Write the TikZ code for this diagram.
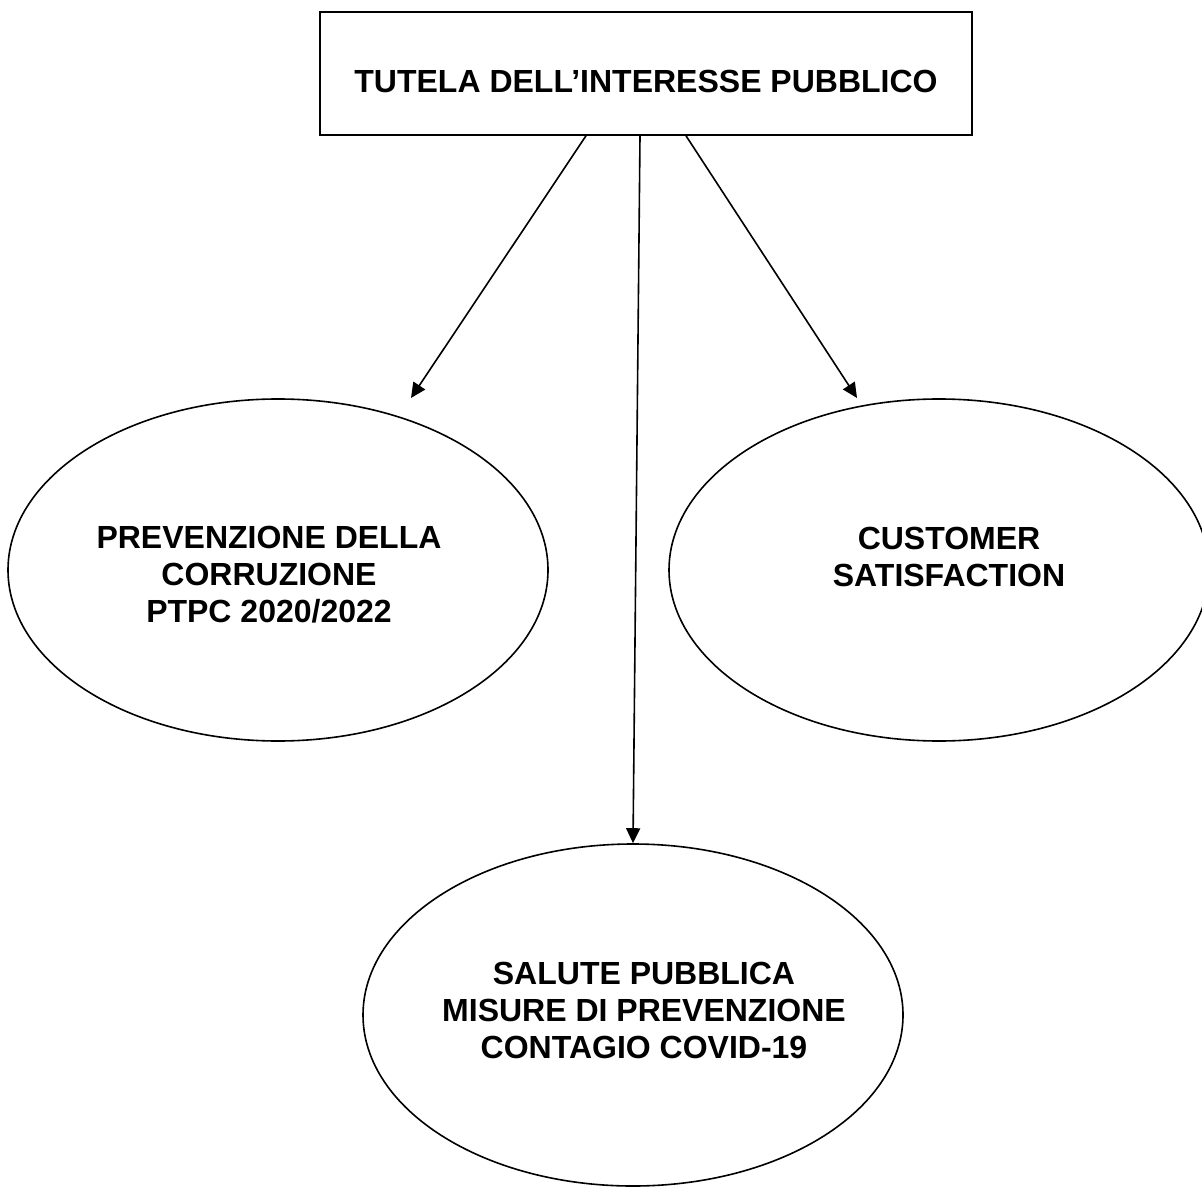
\documentclass[tikz,border=0pt]{standalone}
\usepackage{fontspec}
\setmainfont{Liberation Sans}
\usetikzlibrary{shapes.geometric,arrows.meta}

\begin{document}
\begin{tikzpicture}
  [
    x=0.5pt, y=-0.5pt, line width=0.8pt,
    font=\fontsize{16}{18.5}\selectfont\bfseries,
    head/.style =
      {draw, rectangle, align=center, minimum width=326pt, minimum height=61.5pt},
    bubble/.style =
      {draw, ellipse, inner sep=0pt, minimum width=270pt, minimum height=171pt},
    txt/.style =
      {align=center, inner sep=0pt},
    link/.style =
      {-{Triangle[length=7.5pt, width=7pt]}}
  ]
  \useasboundingbox (0,0) rectangle (1202,1186);

  \node [head, label={[txt, yshift=-4pt]center:TUTELA DELL’INTERESSE PUBBLICO}]
    at (646,73.5) (t) {};
  \node [bubble, label={[txt, xshift=-4.5pt, yshift=-2.5pt]center:PREVENZIONE DELLA\\CORRUZIONE\\PTPC 2020/2022}]
    at (278,570) (p) {};
  \node [bubble, label={[txt, xshift=5pt, yshift=6.5pt]center:CUSTOMER\\SATISFACTION}]
    at (939,570) (c) {};
  \node [bubble, label={[txt, xshift=5.5pt, yshift=2.5pt]center:SALUTE PUBBLICA\\MISURE DI PREVENZIONE\\CONTAGIO COVID-19}]
    at (633,1015) (s) {};

  \coordinate (pt) at (411,398);
  \coordinate (ct) at (857,398);

  \draw [link] ([xshift=-30pt]t.south) -- (pt);
  \draw [link] ([xshift=-3pt]t.south)  -- (s.north);
  \draw [link] ([xshift=20pt]t.south)  -- (ct);
\end{tikzpicture}
\end{document}
